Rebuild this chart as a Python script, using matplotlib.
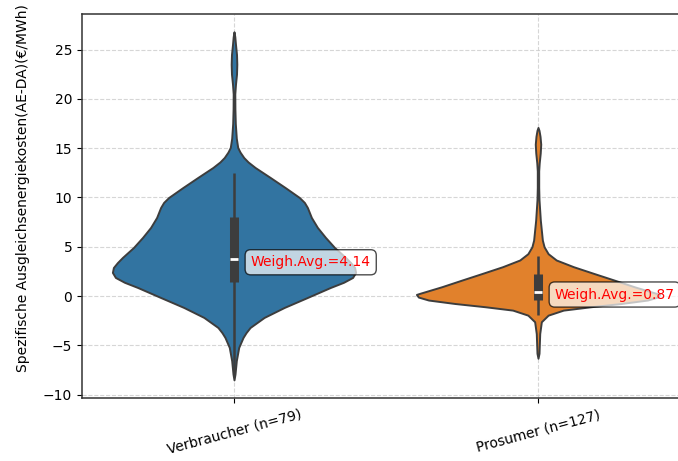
import matplotlib
matplotlib.use("Agg")
import matplotlib.pyplot as plt
import numpy as np

categories = ["Verbraucher (n=79)", "Prosumer (n=127)"]
weighted_avg = [4.14, 0.87]

# violin outline: y value and relative half-width
verb_y = [-8.5, -7.9, -6.55, -5.2, -4.19, -3.7, -3.18, -2.16, -1.15, -0.14,
          0.88, 1.4, 1.89, 2.4, 2.9, 3.4, 3.92, 4.93, 5.95, 6.96, 7.97,
          8.99, 9.5, 10.0, 10.5, 11.0, 12.03, 13.04, 13.6, 14.05, 14.6,
          15.07, 16.0, 17.5, 19.0, 20.5, 21.5, 22.5, 23.5, 24.5, 25.5,
          26.3, 26.8]
verb_w = [0, 1, 2.3, 4.7, 9, 12, 16, 30, 50, 73,
          96, 109, 118, 121, 120, 116, 111, 100, 91, 83, 77,
          73, 70, 65, 58, 51, 36, 21, 14, 9.7, 6,
          3.7, 2.3, 1.3, 0.9, 0.8, 1.5, 2.5, 2.8, 2.5, 1.5,
          0.8, 0]

pros_y = [-6.3, -5.8, -3.8, -2.6, -1.93, -1.42, -1.08, -0.75, -0.4, -0.1,
          0.17, 0.27, 0.95, 1.63, 2.3, 2.98, 3.66, 4.3, 5.0, 5.68, 7.7,
          9.76, 11.0, 12.7, 13.5, 14.5, 15.4, 16.2, 16.8, 17.1]
pros_w = [0, 1, 1.7, 3.3, 10, 25, 52, 82, 108, 118,
          120, 117, 95, 75, 55, 35, 18, 10, 6, 4.3, 2.3,
          1, 0.7, 0.7, 1.2, 2.2, 2.7, 2.0, 1.0, 0]

# box statistics: q1, median, q3, lower whisker, upper whisker
q1 = [1.42, -0.44]
median = [3.78, 0.40]
q3 = [8.07, 2.20]
whisk_lo = [-8.0, -1.95]
whisk_hi = [12.45, 4.1]

colors = ["#3274a1", "#e1812c"]
edge = "#3d3d3d"

fig = plt.figure(figsize=(6.78, 4.61), dpi=100)
ax = fig.add_axes([82 / 678, (461 - 397.7) / 461, 608 / 678, (397.7 - 14) / 461])

stats = []
for ys, ws in [(verb_y, verb_w), (pros_y, pros_w)]:
    stats.append(dict(coords=np.array(ys), vals=np.array(ws, dtype=float),
                      mean=0, median=0, min=min(ys), max=max(ys)))
parts = ax.violin(stats, positions=[0, 1], widths=0.8, showmeans=False,
                  showextrema=False, showmedians=False)
for body, c in zip(parts["bodies"], colors):
    body.set_facecolor(c)
    body.set_edgecolor(edge)
    body.set_linewidth(1.4)
    body.set_joinstyle("round")
    body.set_alpha(1)
    body.set_zorder(2)

for i in range(2):
    ax.vlines(i, whisk_lo[i], whisk_hi[i], color=edge, lw=1.8, zorder=3)
    ax.vlines(i, q1[i], q3[i], color=edge, lw=6.5, zorder=3)
    ax.hlines(median[i], i - 0.012, i + 0.012, color="white", lw=2, zorder=4)
    ax.text(i + 0.055, weighted_avg[i], f"Weigh.Avg.={weighted_avg[i]:.2f}",
            color="red", fontsize=10, ha="left", va="top", zorder=5,
            bbox=dict(boxstyle="round,pad=0.4", facecolor="white", alpha=0.7,
                      edgecolor="black"))

ax.set_xlim(-0.5, 1.5)
ax.set_ylim(-10.3, 28.6)
ax.set_xticks([0, 1])
ax.set_xticklabels(categories, rotation=15, fontsize=10)
ax.set_yticks([-10, -5, 0, 5, 10, 15, 20, 25])
ax.tick_params(labelsize=10)
ax.grid(True, linestyle="--", color="#cccccc", alpha=0.8, zorder=0)
ax.set_axisbelow(True)
ax.spines["right"].set_visible(False)
for s in ["top", "left", "bottom"]:
    ax.spines[s].set_color("#333333")
    ax.spines[s].set_linewidth(1.1)
ax.set_ylabel("Spezifische Ausgleichsenergiekosten(AE-DA)(€/MWh)", fontsize=10)
ax.yaxis.set_label_coords(-0.0855, 0.546)

fig.savefig("out.png", dpi=100)
